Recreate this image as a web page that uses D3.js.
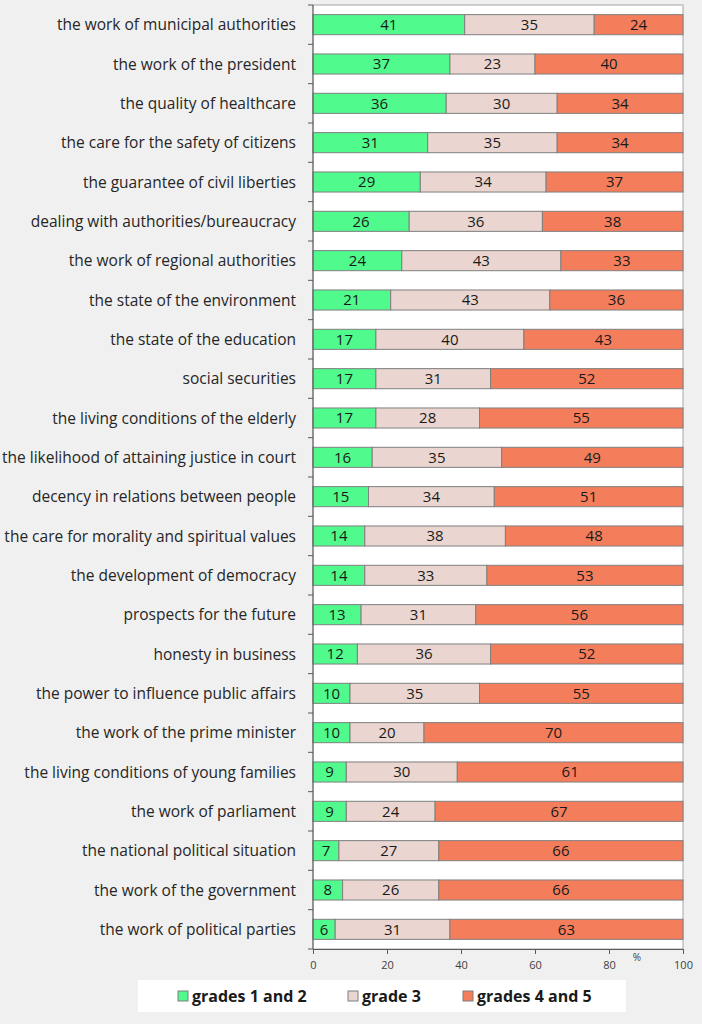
<!DOCTYPE html>
<html>
<head>
<meta charset="utf-8">
<script src="https://cdn.jsdelivr.net/npm/d3@7"></script>
<style>
  body { margin: 0; background: #f0f0f0; }
  svg { display: block; }
</style>
</head>
<body>
<svg id="chart"></svg>
<script>
const categories = [
  "the work of municipal authorities",
  "the work of the president",
  "the quality of healthcare",
  "the care for the safety of citizens",
  "the guarantee of civil liberties",
  "dealing with authorities/bureaucracy",
  "the work of regional authorities",
  "the state of the environment",
  "the state of the education",
  "social securities",
  "the living conditions of the elderly",
  "the likelihood of attaining justice in court",
  "decency in relations between people",
  "the care for morality and spiritual values",
  "the development of democracy",
  "prospects for the future",
  "honesty in business",
  "the power to influence public affairs",
  "the work of the prime minister",
  "the living conditions of young families",
  "the work of parliament",
  "the national political situation",
  "the work of the government",
  "the work of political parties"
];
const grades12 = [41, 37, 36, 31, 29, 26, 24, 21, 17, 17, 17, 16, 15, 14, 14, 13, 12, 10, 10, 9, 9, 7, 8, 6];
const grade3   = [35, 23, 30, 35, 34, 36, 43, 43, 40, 31, 28, 35, 34, 38, 33, 31, 36, 35, 20, 30, 24, 27, 26, 31];
const grades45 = [24, 40, 34, 34, 37, 38, 33, 36, 43, 52, 55, 49, 51, 48, 53, 56, 52, 55, 70, 61, 67, 66, 66, 63];
const seriesNames = ["grades 1 and 2", "grade 3", "grades 4 and 5"];
const seriesColors = ["#50fa8c", "#ead5d0", "#f47e5c"];
const xTicks = [0, 20, 40, 60, 80, 100];

const width = 702, height = 1024;
const margin = { top: 5, right: 19, bottom: 75, left: 313 };
const font = "'Open Sans', Lato, sans-serif";

const svg = d3.select("#chart").attr("width", width).attr("height", height);

const x = d3.scaleLinear().domain([0, 100]).range([margin.left, width - margin.right]);
const y = d3.scaleBand().domain(categories).range([margin.top, height - margin.bottom]).paddingInner(0.49).paddingOuter(0.245);

//Plot area
svg.append("rect")
  .attr("x", x(0)).attr("y", margin.top)
  .attr("width", x(100) - x(0)).attr("height", height - margin.bottom - margin.top)
  .attr("fill", "#fff")
  .attr("stroke", "#a6a6a6");

//Stack rows
const rows = categories.map((c, i) => ({ cat: c, s0: grades12[i], s1: grade3[i], s2: grades45[i] }));
const stacked = d3.stack().keys(["s0", "s1", "s2"])(rows);

const layers = svg.append("g").selectAll("g")
  .data(stacked)
  .join("g")
  .attr("fill", (d, i) => seriesColors[i]);

layers.selectAll("rect")
  .data(d => d)
  .join("rect")
  .attr("x", d => x(d[0]))
  .attr("y", d => y(d.data.cat))
  .attr("width", d => x(d[1]) - x(d[0]))
  .attr("height", y.bandwidth())
  .attr("stroke", "#7f7f7f")
  .attr("stroke-width", 1);

layers.selectAll("text")
  .data(d => d.map(v => ({ v, key: d.key })))
  .join("text")
  .attr("x", d => (x(d.v[0]) + x(d.v[1])) / 2)
  .attr("y", d => y(d.v.data.cat) + y.bandwidth() / 2)
  .attr("dy", "0.36em")
  .attr("text-anchor", "middle")
  .attr("fill", "#1a1a1a")
  .style("font-family", font)
  .style("font-size", "15px")
  .text(d => d.v.data[d.key]);

//Left axis with ticks between bands
const yAxis = svg.append("g");
yAxis.append("line")
  .attr("x1", x(0)).attr("x2", x(0))
  .attr("y1", margin.top).attr("y2", height - margin.bottom)
  .attr("stroke", "#595959");
yAxis.selectAll("line.tick")
  .data(d3.range(categories.length + 1))
  .join("line")
  .classed("tick", true)
  .attr("x1", x(0) - 5).attr("x2", x(0))
  .attr("y1", i => margin.top + i * y.step())
  .attr("y2", i => margin.top + i * y.step())
  .attr("stroke", "#595959");
yAxis.selectAll("text")
  .data(categories)
  .join("text")
  .attr("x", 296)
  .attr("y", d => y(d) + y.bandwidth() / 2)
  .attr("dy", "0.36em")
  .attr("text-anchor", "end")
  .attr("fill", "#262626")
  .style("font-family", font)
  .style("font-size", "15.5px")
  .text(d => d);

//Bottom axis
const xAxis = svg.append("g")
  .attr("transform", `translate(0, ${height - margin.bottom})`)
  .call(d3.axisBottom(x).tickValues(xTicks).tickSize(5).tickSizeOuter(0));
xAxis.select(".domain").attr("stroke", "#595959");
xAxis.selectAll(".tick line").attr("stroke", "#595959");
xAxis.selectAll(".tick text")
  .attr("fill", "#404040")
  .attr("dy", "1.05em")
  .style("font-family", font)
  .style("font-size", "11px");

svg.append("text")
  .attr("x", 637).attr("y", height - margin.bottom + 12)
  .attr("text-anchor", "middle")
  .attr("fill", "#404040")
  .style("font-family", font)
  .style("font-size", "10px")
  .text("%");

//Legend
const legend = svg.append("g");
legend.append("rect")
  .attr("x", 138).attr("y", 980)
  .attr("width", 488).attr("height", 32)
  .attr("fill", "#fff");
const legendX = [178, 348, 463];
const items = legend.selectAll("g.item")
  .data(seriesNames)
  .join("g")
  .classed("item", true)
  .attr("transform", (d, i) => `translate(${legendX[i]}, 996)`);
items.append("rect")
  .attr("x", 0).attr("y", -5)
  .attr("width", 10).attr("height", 10)
  .attr("fill", (d, i) => seriesColors[i])
  .attr("stroke", "#7f7f7f");
items.append("text")
  .attr("x", 14).attr("dy", "0.36em")
  .attr("fill", "#1a1a1a")
  .style("font-family", font)
  .style("font-size", "16px")
  .style("font-weight", "bold")
  .text(d => d);
</script>
</body>
</html>
